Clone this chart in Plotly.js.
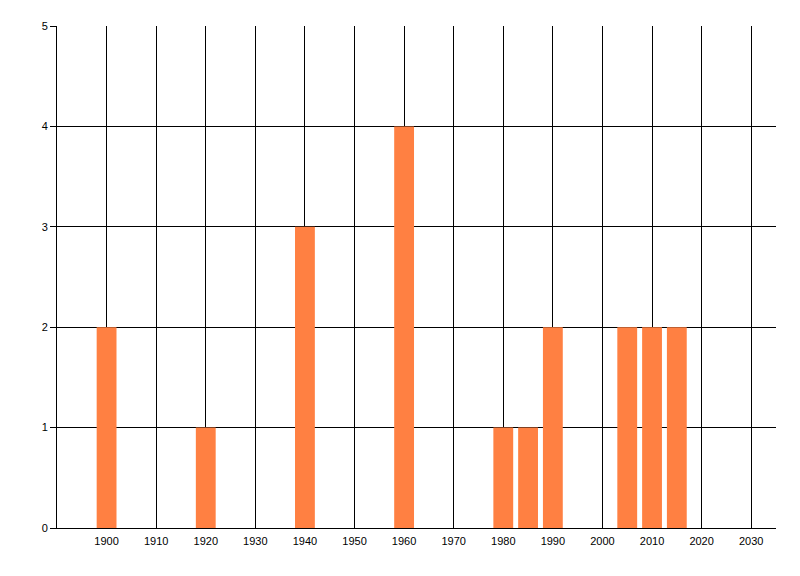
<!DOCTYPE html>
<html><head><meta charset="utf-8">
<script src="https://cdn.plot.ly/plotly-3.0.1.min.js"></script>
<style>html,body{margin:0;padding:0;background:#fff}#c{width:800px;height:576px}</style>
</head><body><div id="c"></div>
<script>
const years = [1900, 1920, 1940, 1960, 1980, 1985, 1990, 2005, 2010, 2015];
const counts = [2, 1, 3, 4, 1, 1, 2, 2, 2, 2];
const xTicks = [1900,1910,1920,1930,1940,1950,1960,1970,1980,1990,2000,2010,2020,2030];
const yTicks = [0,1,2,3,4,5];

Plotly.newPlot('c', [{
  type: 'bar', x: years, y: counts, width: 4,
  marker: {color: '#FF8042', line: {width: 0}}, hoverinfo: 'none'
}], {
  width: 800, height: 576,
  margin: {l: 57, r: 24, t: 26, b: 48},
  paper_bgcolor: '#fff', plot_bgcolor: '#fff',
  showlegend: false,
  font: {family: 'Liberation Sans, Arial, sans-serif', size: 11, color: '#000'},
  xaxis: {range: [1890, 2035], tickvals: xTicks, ticktext: xTicks.map(String),
    showgrid: true, gridcolor: '#000', gridwidth: 1,
    showline: true, linecolor: '#000', linewidth: 1,
    ticks: 'outside', ticklen: 3, tickcolor: 'rgba(0,0,0,0)', zeroline: false, fixedrange: true},
  yaxis: {range: [0, 5], tickvals: yTicks, showgrid: true, gridcolor: '#000', gridwidth: 1,
    showline: true, linecolor: '#000', linewidth: 1,
    ticks: 'outside', ticklen: 6, tickcolor: '#000', zeroline: false, fixedrange: true}
}, {displayModeBar: false, staticPlot: true});
</script></body></html>
